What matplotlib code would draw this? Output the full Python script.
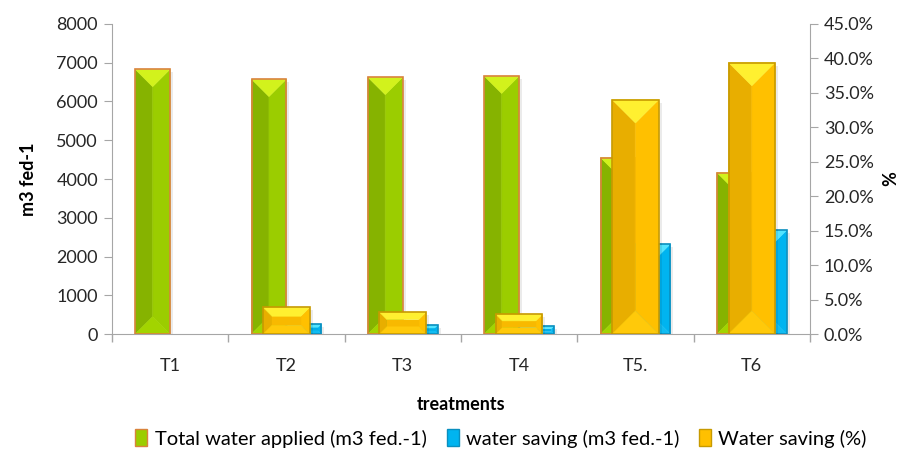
import numpy as np
import matplotlib.pyplot as plt
from matplotlib.patches import Polygon, Patch
from matplotlib.ticker import FuncFormatter, MultipleLocator

# Data
treatments = ["T1", "T2", "T3", "T4", "T5.", "T6"]
total_water = [6830, 6575, 6625, 6655, 4550, 4165]
water_saving = [0, 258, 232, 205, 2320, 2675]
saving_pct = [0.0, 3.85, 3.15, 2.85, 34.0, 39.4]

plt.rcParams['font.family'] = ['Lato', 'DejaVu Sans']

GREEN = dict(left="#86b300", right="#9bcd00", top="#d2f21c", bottom="#a2d400", inner="#95c400", edge="#d9833c")
BLUE = dict(left="#00a2da", right="#00b4f0", top="#52e4ff", bottom="#10bcf2", inner="#00aee8", edge="#0a8fbf")
GOLD = dict(left="#e8ae00", right="#ffc000", top="#fff030", bottom="#ffc90a", inner="#f8b900", edge="#c79a00")


def bevel_bar(ax, x0, x1, height, c):
    # draw a bar as bevelled facets, built in pixel space from the data rectangle
    if height <= 0:
        return
    to_px = ax.transData
    back = ax.transData.inverted()
    (px0, py0), (px1, py1) = to_px.transform([(x0, 0), (x1, height)])
    w, h = px1 - px0, py1 - py0
    d = min(w / 2, h / 3)
    facets = [
        ([(px0, py0), (px0, py1), (px0 + d, py1 - d), (px0 + d, py0 + d)], c["left"]),
        ([(px1, py0), (px1, py1), (px1 - d, py1 - d), (px1 - d, py0 + d)], c["right"]),
        ([(px0 + d, py0 + d), (px0 + d, py1 - d), (px1 - d, py1 - d), (px1 - d, py0 + d)], c["inner"]),
        ([(px0, py0), (px1, py0), (px1 - d, py0 + d), (px0 + d, py0 + d)], c["bottom"]),
        ([(px0, py1), (px1, py1), (px1 - d, py1 - d), (px0 + d, py1 - d)], c["top"]),
    ]
    # soft shadow on the right side
    sh = back.transform([(px0 + 3, py0), (px1 + 3, py0), (px1 + 3, py1 - 3), (px0 + 3, py1 - 3)])
    ax.add_patch(Polygon(sh, closed=True, facecolor="#000000", alpha=0.08, lw=0, zorder=1))
    for pts, col in facets:
        ax.add_patch(Polygon(back.transform(pts), closed=True, facecolor=col, edgecolor=col, lw=0.3, zorder=2))
    outline = back.transform([(px0, py0), (px0, py1), (px1, py1), (px1, py0)])
    ax.add_patch(Polygon(outline, closed=True, fill=False, edgecolor=c["edge"], lw=1.2, zorder=3))


fig = plt.figure(figsize=(9.06, 4.51), dpi=100)
ax = fig.add_axes([0.1235, 0.2594, 0.7705, 0.6874])
ax2 = ax.twinx()

x = np.arange(len(treatments))
ax.set_xlim(-0.5, len(treatments) - 0.5)
ax.set_ylim(0, 8000)
ax2.set_ylim(0, 45)

w_primary = 0.30
w_secondary = 0.40
for i in x:
    bevel_bar(ax, i - w_primary, i, total_water[i], GREEN)
    bevel_bar(ax, i, i + w_primary, water_saving[i], BLUE)
    bevel_bar(ax2, i - w_secondary / 2, i + w_secondary / 2, saving_pct[i], GOLD)

# axes styling
axis_col = "#a6a6a6"
for a in (ax, ax2):
    a.spines["top"].set_visible(False)
    for s in ("left", "right", "bottom"):
        a.spines[s].set_color(axis_col)
ax.spines["right"].set_visible(False)
ax2.spines["left"].set_visible(False)
ax2.spines["bottom"].set_visible(False)

ax.yaxis.set_major_locator(MultipleLocator(1000))
ax2.yaxis.set_major_locator(MultipleLocator(5))
ax2.yaxis.set_major_formatter(FuncFormatter(lambda v, p: f"{v:.1f}%"))

ax.set_xticks(x)
ax.set_xticklabels(treatments)
ax.set_xticks(np.arange(-0.5, len(treatments)), minor=True)
ax.tick_params(axis="x", which="major", length=0, pad=17, labelsize=13, colors="#262626")
ax.tick_params(axis="x", which="minor", length=6, color=axis_col, width=1)
ax.tick_params(axis="y", length=6, color=axis_col, labelsize=13, labelcolor="#262626", pad=4)
ax2.tick_params(axis="y", length=6, color=axis_col, labelsize=13, labelcolor="#262626", pad=4)

ax.set_ylabel("m3 fed-1", fontsize=13, fontweight="bold", labelpad=14)
ax2.set_ylabel("%", fontsize=13, fontweight="bold", labelpad=6)
ax.set_xlabel("treatments", fontsize=13, fontweight="bold", labelpad=16)

handles = [
    Patch(facecolor=GREEN["right"], edgecolor=GREEN["edge"], label="Total water applied (m3 fed.-1)"),
    Patch(facecolor=BLUE["right"], edgecolor=BLUE["edge"], label="water saving (m3 fed.-1)"),
    Patch(facecolor=GOLD["right"], edgecolor=GOLD["edge"], label="Water saving (%)"),
]
fig.legend(handles=handles, loc="center", bbox_to_anchor=(0.553, 0.028), ncol=3, frameon=False,
           fontsize=14.5, handlelength=0.6, handleheight=0.9, handletextpad=0.35, columnspacing=1.0)

fig.savefig("out.png", dpi=100)
